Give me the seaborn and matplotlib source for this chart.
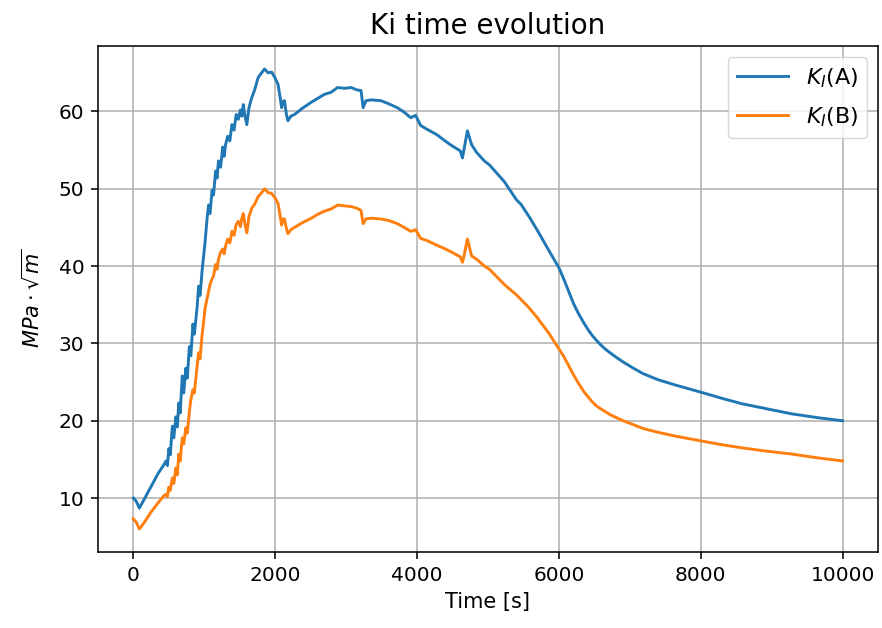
import numpy as np
import pandas as pd
import matplotlib
matplotlib.use("Agg")
import matplotlib.pyplot as plt
import seaborn as sns

time_s = [0, 40, 84, 150, 250, 350, 430, 460, 480, 500, 520, 550, 570, 600, 620,
          640, 660, 690, 710, 740, 760, 790, 810, 840, 860, 900, 920, 940, 970, 990,
          1010, 1040, 1060, 1080, 1110, 1130, 1160, 1180, 1200, 1230, 1260, 1280, 1300,
          1330, 1360, 1390, 1420, 1450, 1480, 1510, 1530, 1550, 1570, 1600, 1630, 1670,
          1710, 1760, 1800, 1850, 1900, 1950, 2000, 2040, 2070, 2090, 2110, 2130, 2160,
          2180, 2220, 2270, 2380, 2510, 2600, 2690, 2790, 2880, 2980, 3070, 3150, 3210,
          3240, 3280, 3350, 3490, 3600, 3720, 3820, 3910, 3980, 4050, 4140, 4280, 4380,
          4470, 4610, 4640, 4660, 4710, 4770, 4840, 4950, 5020, 5233, 5400, 5465, 5580,
          5698, 5860, 6000, 6070, 6140, 6209, 6280, 6349, 6410, 6465, 6520, 6581, 6650,
          6721, 6810, 6907, 7050, 7186, 7400, 7651, 8000, 8300, 8581, 8900, 9279, 9650, 10000]

ki_a = [10.0, 9.6, 8.7, 9.8, 11.5, 13.2, 14.3, 14.8, 14.2, 16.4, 15.6, 19.3, 17.8, 20.5, 19.2,
        22.3, 21.0, 25.8, 23.6, 26.8, 25.5, 29.6, 28.4, 32.5, 31.2, 34.8, 37.4, 36.2, 39.5, 41.3,
        43.0, 46.2, 47.9, 46.8, 49.8, 49.2, 52.3, 51.4, 53.6, 52.8, 55.4, 54.2, 55.7,
        56.8, 56.2, 58.3, 57.6, 59.6, 59.0, 60.2, 59.4, 60.9, 59.6, 58.3, 60.5, 61.8,
        62.8, 64.4, 64.9, 65.5, 65.0, 65.1, 64.3, 63.5, 61.8, 60.5, 61.3, 61.4, 59.5,
        58.8, 59.4, 59.6, 60.4, 61.2, 61.7, 62.2, 62.5, 63.1, 63.0, 63.1, 62.8, 62.7,
        60.5, 61.4, 61.5, 61.4, 61.0, 60.5, 59.9, 59.2, 59.5, 58.2, 57.7, 57.0, 56.3,
        55.7, 54.9, 54.0, 55.0, 57.5, 55.7, 54.7, 53.6, 53.1, 50.9, 48.6, 48.0, 46.4,
        44.6, 42.0, 39.8, 38.3, 36.7, 35.1, 33.8, 32.7, 31.8, 31.1, 30.5, 29.9, 29.3,
        28.8, 28.2, 27.6, 26.8, 26.1, 25.3, 24.6, 23.7, 22.9, 22.2, 21.6, 20.9, 20.4, 20.0]

ki_b = [7.3, 6.9, 6.0, 6.8, 8.2, 9.4, 10.3, 10.5, 10.2, 11.4, 11.0, 12.6, 11.9, 13.9, 13.0,
        15.7, 14.8, 17.8, 17.0, 19.1, 18.4, 21.2, 22.7, 24.0, 23.6, 27.2, 28.8, 28.0, 31.2, 32.7,
        34.5, 35.8, 36.6, 37.6, 38.4, 38.7, 40.2, 39.6, 40.9, 41.8, 42.2, 41.6, 42.6,
        43.5, 43.0, 44.5, 44.0, 45.4, 45.8, 45.1, 46.2, 46.8, 45.6, 44.3, 46.4, 47.5,
        48.0, 49.0, 49.4, 50.0, 49.5, 49.4, 48.8, 48.1, 46.5, 45.3, 46.1, 46.1, 44.8,
        44.2, 44.7, 45.0, 45.6, 46.2, 46.7, 47.1, 47.4, 47.9, 47.8, 47.7, 47.5, 47.2,
        45.5, 46.1, 46.2, 46.1, 45.9, 45.5, 45.0, 44.5, 44.7, 43.6, 43.3, 42.7, 42.3,
        41.9, 41.2, 40.5, 41.2, 43.5, 41.3, 40.9, 40.0, 39.6, 37.6, 36.3, 35.7, 34.6,
        33.3, 31.3, 29.3, 28.3, 27.1, 25.9, 24.8, 23.8, 23.1, 22.5, 22.0, 21.6, 21.2,
        20.8, 20.4, 20.0, 19.5, 19.0, 18.5, 18.0, 17.4, 16.9, 16.5, 16.1, 15.7, 15.2, 14.8]

series_labels = ["$K_I$(A)", "$K_I$(B)"]

df = pd.concat([
    pd.DataFrame({"Time": time_s, "Ki": ki_a, "series": series_labels[0]}),
    pd.DataFrame({"Time": time_s, "Ki": ki_b, "series": series_labels[1]}),
], ignore_index=True)

s = 1.4
plt.rcParams.update({
    "font.family": ["DejaVu Sans"],
    "font.size": 14.5,
    "axes.linewidth": 0.8 * s,
    "xtick.major.size": 3.5 * s,
    "ytick.major.size": 3.5 * s,
    "xtick.major.width": 0.8 * s,
    "ytick.major.width": 0.8 * s,
    "xtick.major.pad": 3.5 * s,
    "ytick.major.pad": 3.5 * s,
    "axes.labelpad": 4.0 * s,
    "axes.titlepad": 6.0 * s,
})

fig, ax = plt.subplots(figsize=(8.82, 6.28), dpi=100)
fig.subplots_adjust(left=0.111, right=0.9955, top=0.9268, bottom=0.121)

sns.lineplot(data=df, x="Time", y="Ki", hue="series", estimator=None, sort=False,
             palette=["#1f77b4", "#ff7f0e"], linewidth=1.5 * s, ax=ax)

ax.grid(True, color="#b0b0b0", linewidth=0.8 * s)
ax.set_axisbelow(True)
ax.set_title("Ki time evolution", fontsize=20)
ax.set_xlabel("Time [s]", fontsize=15)
ax.set_ylabel(r"$MPa \cdot \sqrt{m}$", fontsize=15, labelpad=11)
ax.tick_params(labelsize=14.5)
ax.set_xticks([0, 2000, 4000, 6000, 8000, 10000])
ax.set_yticks([10, 20, 30, 40, 50, 60])
handles, labels = ax.get_legend_handles_labels()
ax.legend(handles, labels, loc="upper right", fontsize=16, handlelength=2.3,
          labelspacing=0.7)

fig.savefig("out.png", dpi=100)
